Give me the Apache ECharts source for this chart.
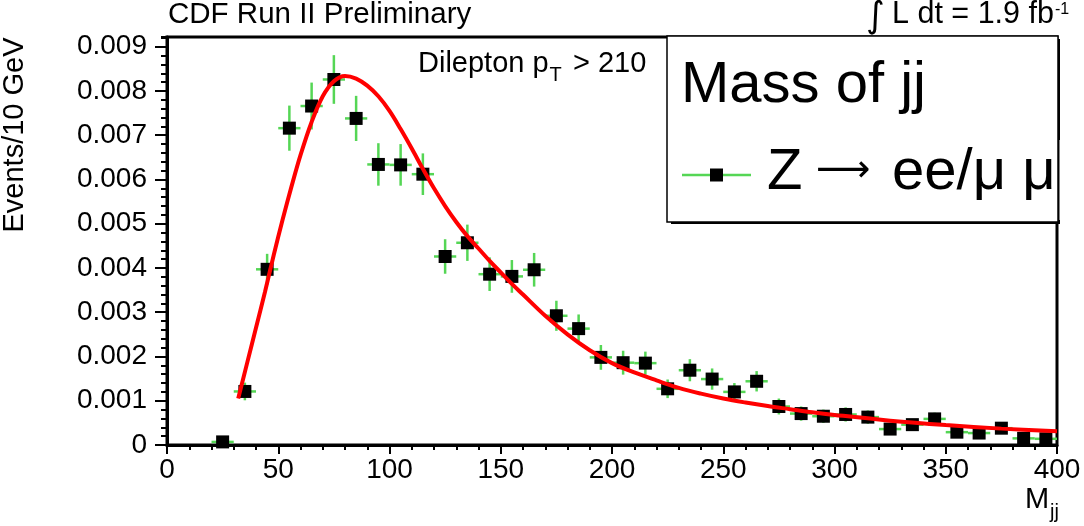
<!DOCTYPE html>
<html>
<head>
<meta charset="utf-8">
<script src="https://cdn.jsdelivr.net/npm/echarts@6/dist/echarts.min.js"></script>
<style>
  html, body { margin: 0; padding: 0; background: #fff; }
  #chart { width: 1084px; height: 526px; }
</style>
</head>
<body>
<div id="chart"></div>
<script>
// Dijet invariant mass, Z -> ee/mumu + jets, dilepton pT > 210
const binCenters = [25, 35, 45, 55, 65, 75, 85, 95, 105, 115, 125, 135, 145, 155, 165, 175, 185, 195, 205, 215,
                    225, 235, 245, 255, 265, 275, 285, 295, 305, 315, 325, 335, 345, 355, 365, 375, 385, 395];
const eventsPer10GeV = [0.00007, 0.00121, 0.00397, 0.00716, 0.00766, 0.00826, 0.00738, 0.00634, 0.00633, 0.00612,
                        0.00426, 0.00457, 0.00386, 0.00381, 0.00396, 0.00292, 0.00263, 0.00198, 0.00186, 0.00185,
                        0.00127, 0.00169, 0.00149, 0.00120, 0.00144, 0.00087, 0.00071, 0.00065, 0.00069, 0.00063,
                        0.00036, 0.00046, 0.00059, 0.00029, 0.00027, 0.00038, 0.00015, 0.00014];
const statErrors = [0.00005, 0.00020, 0.00035, 0.00051, 0.00053, 0.00055, 0.00051, 0.00048, 0.00047, 0.00047,
                    0.00039, 0.00041, 0.00038, 0.00037, 0.00038, 0.00034, 0.00032, 0.00028, 0.00027, 0.00026,
                    0.00021, 0.00025, 0.00024, 0.00020, 0.00023, 0.00018, 0.00016, 0.00015, 0.00016, 0.00015,
                    0.00012, 0.00013, 0.00014, 0.00010, 0.00010, 0.00012, 0.00008, 0.00008];

// Fitted shape
const fitMass = [32, 36, 40, 44, 48, 52, 56, 60, 65, 70, 75, 80, 85, 90, 95, 100, 105, 110, 115, 120,
                 125, 130, 135, 140, 145, 150, 155, 160, 170, 180, 190, 200, 210, 220, 230, 240, 250, 260,
                 270, 280, 290, 300, 325, 350, 375, 400];
const fitValues = [0.00105, 0.00185, 0.00265, 0.00345, 0.0043, 0.0051, 0.00585, 0.00655, 0.0073, 0.00788,
                   0.00822, 0.00834, 0.00828, 0.00812, 0.00788, 0.00755, 0.00714, 0.0067, 0.00624, 0.0058,
                   0.0054, 0.00504, 0.00472, 0.00444, 0.00416, 0.0039, 0.00364, 0.0034, 0.00292, 0.0025,
                   0.00214, 0.00185, 0.00164, 0.00146, 0.00129, 0.00116, 0.00105, 0.00096, 0.00088, 0.00081,
                   0.00074, 0.00068, 0.00055, 0.00045, 0.00037, 0.00031];

const halfBin = 5;
const FONT = '"Liberation Sans", Arial, Helvetica, sans-serif';
const SYMBOL_FONT = '"DejaVu Sans", sans-serif';
const GREEN = '#55d655';

const points = binCenters.map((m, i) => [m, eventsPer10GeV[i], statErrors[i]]);
const fitCurve = fitMass.map((m, i) => [m, fitValues[i]]);

// text width helper, used to place sub/superscripts right after their base text
const measureCtx = document.createElement('canvas').getContext('2d');
function textWidth(text, size, family) {
  measureCtx.font = size + 'px ' + (family || FONT);
  return measureCtx.measureText(text).width;
}

function txt(text, x, y, size, family, extra) {
  return Object.assign({
    type: 'text', x: x, y: y, z: 100,
    style: { text: text, fill: '#000', font: size + 'px ' + (family || FONT), align: 'left', verticalAlign: 'middle' }
  }, extra || {});
}

const lumiText = 'L dt = 1.9 fb';
const lumiX = 892;
const lumiSize = 30.5;
const dilepText = 'Dilepton p';
const dilepX = 418;
const dilepSubX = dilepX + textWidth(dilepText, 29) + 1;

const chart = echarts.init(document.getElementById('chart'), null, { renderer: 'canvas' });

const option = {
  animation: false,
  backgroundColor: '#fff',
  grid: { left: 167, right: 27, top: 37, bottom: 81, show: true, borderColor: '#000', borderWidth: 3, backgroundColor: '#fff' },
  xAxis: {
    type: 'value', min: 0, max: 400, interval: 50,
    axisLine: { lineStyle: { color: '#000', width: 3 } },
    axisTick: { inside: false, length: 9, lineStyle: { color: '#000', width: 2 } },
    minorTick: { show: true, splitNumber: 5, length: 5, lineStyle: { color: '#000', width: 2 } },
    splitLine: { show: false },
    axisLabel: { color: '#000', fontFamily: FONT, fontSize: 28, margin: 11 }
  },
  yAxis: [{
    type: 'value', min: 0, max: 0.00922, interval: 0.001,
    axisLine: { lineStyle: { color: '#000', width: 3 } },
    axisTick: { inside: false, length: 12, lineStyle: { color: '#000', width: 2 } },
    splitLine: { show: false },
    axisLabel: {
      color: '#000', fontFamily: FONT, fontSize: 28, margin: 20, showMaxLabel: false,
      formatter: v => (v === 0 ? '0' : v.toFixed(3))
    }
  }, {
    // minor ticks every 0.0002
    type: 'value', position: 'left', min: 0, max: 0.00922, interval: 0.0002,
    axisLine: { show: false },
    axisTick: { inside: false, length: 6, lineStyle: { color: '#000', width: 2 } },
    axisLabel: { show: false },
    splitLine: { show: false }
  }],
  series: [
    {
      type: 'custom', name: 'errors', data: points, z: 2,
      encode: { x: 0, y: 1 },
      renderItem: function (params, api) {
        const x = api.value(0), y = api.value(1), e = api.value(2);
        const l = api.coord([x - halfBin, y]), r = api.coord([x + halfBin, y]);
        const t = api.coord([x, y + e]), b = api.coord([x, y - e]);
        return {
          type: 'group',
          children: [
            { type: 'line', shape: { x1: l[0], y1: l[1], x2: r[0], y2: r[1] }, style: { stroke: GREEN, lineWidth: 2.5 } },
            { type: 'line', shape: { x1: t[0], y1: t[1], x2: b[0], y2: b[1] }, style: { stroke: GREEN, lineWidth: 2.5 } }
          ]
        };
      }
    },
    {
      type: 'scatter', name: 'Z -> ee/mumu', data: points.map(p => [p[0], p[1]]), z: 3,
      symbol: 'rect', symbolSize: 13, itemStyle: { color: '#000', opacity: 1 }
    },
    {
      type: 'line', name: 'fit', data: fitCurve, z: 4, smooth: 0.35,
      showSymbol: false, lineStyle: { color: '#ff0000', width: 4 }
    }
  ],
  graphic: [
    // header texts
    txt('CDF Run II Preliminary', 168, 15, 29.5),
    txt('\u222B', 866, 18, 36, SYMBOL_FONT),
    txt(lumiText, lumiX, 15, lumiSize),
    txt('-1', lumiX + textWidth(lumiText, lumiSize) + 1, 10, 16),
    // selection label
    txt(dilepText, dilepX, 64, 29),
    txt('T', dilepSubX, 75, 20),
    txt('> 210', 573, 64, 29),
    // axis titles
    txt('Events/10 GeV', 15, 135, 29, null, { rotation: Math.PI / 2, style: { text: 'Events/10 GeV', fill: '#000', font: '29px ' + FONT, align: 'center', verticalAlign: 'middle' } }),
    txt('M', 1025, 500, 29),
    txt('jj', 1050, 512, 20),
    // legend box with shadow
    { type: 'rect', z: 90, shape: { x: 671, y: 39, width: 389, height: 185 }, style: { fill: '#000' } },
    { type: 'rect', z: 91, shape: { x: 667, y: 36, width: 391, height: 186 }, style: { fill: '#fff', stroke: '#000', lineWidth: 1.5 } },
    txt('Mass of jj', 681, 86, 58),
    { type: 'line', z: 100, shape: { x1: 682, y1: 175, x2: 751, y2: 175 }, style: { stroke: GREEN, lineWidth: 2.5 } },
    { type: 'rect', z: 101, shape: { x: 710, y: 168.5, width: 13, height: 13 }, style: { fill: '#000' } },
    txt('Z', 767, 173, 58),
    txt('\u27F6', 816, 171, 38, SYMBOL_FONT),
    txt('ee/\u03BC \u03BC', 892, 173, 58),
    { type: 'rect', z: 110, shape: { x: 1059.5, y: 140, width: 30, height: 80 }, style: { fill: '#fff' } }
  ]
};

chart.setOption(option);
</script>
</body>
</html>
